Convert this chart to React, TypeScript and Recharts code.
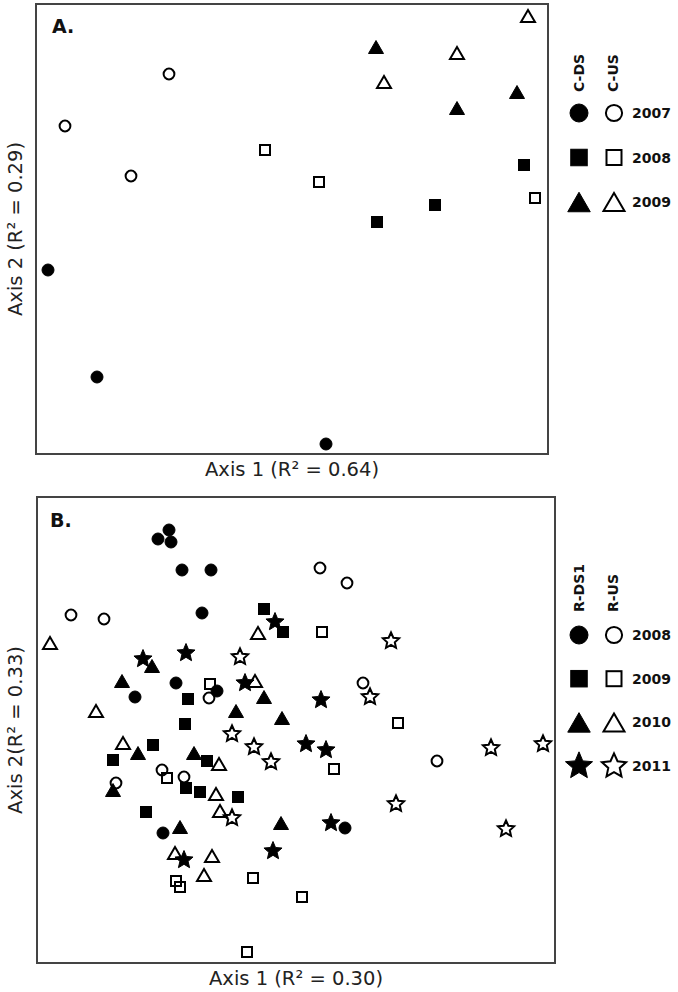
import { ReferenceArea, Scatter, ScatterChart, XAxis, YAxis } from 'recharts';

type Pt = [number, number];
type Kind = 'circle' | 'square' | 'triangle' | 'star';

// Panel A: C-DS (filled) / C-US (open), 2007-2009
const groupsA = ['C-DS', 'C-US'];
const yearsA = ['2007', '2008', '2009'];
const cDs2007: Pt[] = [[1.2, 18.4], [6.1, 7.7], [29.0, 1.0]];
const cUs2007: Pt[] = [[2.9, 32.8], [13.3, 38.0], [9.5, 27.8]];
const cDs2008: Pt[] = [[34.1, 23.2], [39.9, 24.9], [48.8, 28.9]];
const cUs2008: Pt[] = [[22.9, 30.4], [28.3, 27.2], [49.9, 25.6]];
const cDs2009: Pt[] = [[34.0, 40.7], [42.1, 34.6], [48.1, 36.2]];
const cUs2009: Pt[] = [[49.2, 43.8], [42.1, 40.1], [34.8, 37.2]];

// Panel B: R-DS1 (filled) / R-US (open), 2008-2011
const groupsB = ['R-DS1', 'R-US'];
const yearsB = ['2008', '2009', '2010', '2011'];
const rDs2008: Pt[] = [[13.2, 43.3], [12.1, 42.4], [13.4, 42.1], [14.5, 39.3], [17.4, 39.3], [16.5, 35.0], [13.9, 28.0], [18.0, 27.2], [9.8, 26.6], [12.6, 13.0], [30.8, 13.5]];
const rUs2008: Pt[] = [[3.4, 34.8], [6.7, 34.4], [28.3, 39.5], [31.0, 38.0], [17.2, 26.5], [32.6, 28.0], [40.0, 20.2], [12.5, 19.3], [14.7, 18.6], [7.9, 18.0]];
const rDs2009: Pt[] = [[22.7, 35.4], [24.6, 33.1], [15.1, 26.4], [14.8, 23.9], [11.6, 21.8], [7.6, 20.3], [17.0, 20.2], [14.9, 17.5], [16.3, 17.1], [20.1, 16.6], [10.9, 15.1]];
const rUs2009: Pt[] = [[28.5, 33.1], [17.3, 27.9], [36.1, 24.0], [29.7, 19.4], [13.0, 18.5], [13.9, 8.2], [14.3, 7.6], [21.6, 8.5], [26.5, 6.6], [21.0, 1.1]];
const rDs2010: Pt[] = [[11.5, 29.7], [8.5, 28.2], [22.7, 26.6], [19.9, 25.2], [24.5, 24.5], [10.1, 21.0], [15.7, 21.0], [7.6, 17.3], [14.3, 13.6], [24.4, 14.0]];
const rUs2010: Pt[] = [[1.3, 32.0], [22.1, 33.0], [21.8, 28.2], [5.9, 25.2], [8.6, 22.0], [18.2, 19.9], [17.9, 16.9], [18.3, 15.2], [13.8, 11.0], [17.5, 10.7], [16.7, 8.8]];
const rDs2011: Pt[] = [[23.8, 34.1], [10.6, 30.4], [14.9, 31.0], [20.8, 28.0], [28.4, 26.3], [26.9, 21.9], [28.9, 21.3], [29.4, 14.0], [23.6, 11.2], [14.7, 10.3]];
const rUs2011: Pt[] = [[20.3, 30.6], [19.5, 22.9], [21.7, 21.6], [23.4, 20.1], [35.4, 32.2], [33.3, 26.6], [19.5, 14.5], [35.9, 15.9], [45.4, 21.5], [50.6, 21.9], [46.9, 13.4]];

const kindsA: Kind[] = ['circle', 'square', 'triangle'];
const kindsB: Kind[] = ['circle', 'square', 'triangle', 'star'];

const seriesA = [
  { kind: 'circle', filled: true, pts: cDs2007 },
  { kind: 'circle', filled: false, pts: cUs2007 },
  { kind: 'square', filled: true, pts: cDs2008 },
  { kind: 'square', filled: false, pts: cUs2008 },
  { kind: 'triangle', filled: true, pts: cDs2009 },
  { kind: 'triangle', filled: false, pts: cUs2009 },
] as const;

const seriesB = [
  { kind: 'circle', filled: true, pts: rDs2008 },
  { kind: 'circle', filled: false, pts: rUs2008 },
  { kind: 'square', filled: true, pts: rDs2009 },
  { kind: 'square', filled: false, pts: rUs2009 },
  { kind: 'triangle', filled: true, pts: rDs2010 },
  { kind: 'triangle', filled: false, pts: rUs2010 },
  { kind: 'star', filled: true, pts: rDs2011 },
  { kind: 'star', filled: false, pts: rUs2011 },
] as const;

const FONT = 'DejaVu Sans, Verdana, sans-serif';
const toXY = (pts: readonly Pt[]) => pts.map(([x, y]) => ({ x, y }));

const starPath = (cx: number, cy: number, R: number, r: number) => {
  let d = '';
  for (let i = 0; i < 10; i++) {
    const a = -Math.PI / 2 + (i * Math.PI) / 5;
    const rad = i % 2 === 0 ? R : r;
    d += (i ? 'L' : 'M') + (cx + rad * Math.cos(a)).toFixed(2) + ',' + (cy + rad * Math.sin(a)).toFixed(2);
  }
  return d + 'Z';
};

const Marker = ({ cx, cy, kind, filled, k = 1 }: { cx: number; cy: number; kind: Kind; filled: boolean; k?: number }) => {
  if (cx == null || cy == null) return null;
  const common = {
    fill: filled ? '#000' : 'none',
    stroke: '#000',
    strokeWidth: filled ? 1 : 2,
    strokeLinejoin: 'miter' as const,
  };
  if (kind === 'circle') return <circle cx={cx} cy={cy} r={(filled ? 6 : 5.4) * k} {...common} />;
  if (kind === 'square') {
    const s = (filled ? 11 : 10) * k;
    return <rect x={cx - s / 2} y={cy - s / 2} width={s} height={s} {...common} />;
  }
  if (kind === 'triangle') {
    const w = (filled ? 15 : 14) * k;
    const h = (filled ? 13 : 12) * k;
    return <polygon points={`${cx},${cy - h / 2} ${cx - w / 2},${cy + h / 2} ${cx + w / 2},${cy + h / 2}`} {...common} />;
  }
  return <path d={starPath(cx, cy, (filled ? 9.5 : 8.5) * k, (filled ? 4.3 : 4) * k)} {...common} />;
};

const xLabel = (text: string) => ({
  content: (props: any) => {
    const vb = props.viewBox || { x: 0, y: 0, width: 0, height: 0 };
    return (
      <text x={vb.x + vb.width / 2} y={vb.y + 15} textAnchor="middle" dominantBaseline="central" fontFamily={FONT} fontSize={19.5} fill="#222">
        {text}
      </text>
    );
  },
});

const yLabel = (text: string) => ({
  content: (props: any) => {
    const vb = props.viewBox || { x: 0, y: 0, width: 0, height: 0 };
    const x = vb.x + 15;
    const y = vb.y + vb.height / 2;
    return (
      <text x={x} y={y} transform={`rotate(-90 ${x} ${y})`} textAnchor="middle" dominantBaseline="central" fontFamily={FONT} fontSize={19.5} fill="#222">
        {text}
      </text>
    );
  },
});

const Legend = ({ groups, years, kinds, headBottom, rowY, rowGap }: { groups: string[]; years: string[]; kinds: Kind[]; headBottom: number; rowY: number; rowGap: number }) => (
  <g fontFamily={FONT} fontWeight="bold" fontSize={14} fill="#111">
    {groups.map((g, i) => {
      const x = 579 + i * 34;
      return (
        <text key={g} x={x} y={headBottom} transform={`rotate(-90 ${x} ${headBottom})`} dominantBaseline="central">
          {g}
        </text>
      );
    })}
    {years.map((yr, i) => {
      const y = rowY + i * rowGap;
      return (
        <g key={yr}>
          <Marker cx={579} cy={y} kind={kinds[i]} filled k={1.5} />
          <Marker cx={614} cy={y} kind={kinds[i]} filled={false} k={1.5} />
          <text x={632} y={y} dominantBaseline="central">{yr}</text>
        </g>
      );
    })}
  </g>
);

const Panel = ({ series, xMax, yMax, xText, yText, margin, xH, yW, height }: any) => (
  <ScatterChart width={678} height={height} margin={margin}>
    <XAxis type="number" dataKey="x" domain={[0, xMax]} allowDataOverflow tick={false} tickLine={false} axisLine={false} height={xH} label={xLabel(xText)} />
    <YAxis type="number" dataKey="y" domain={[0, yMax]} allowDataOverflow tick={false} tickLine={false} axisLine={false} width={yW} label={yLabel(yText)} />
    <ReferenceArea x1={0} x2={xMax} y1={0} y2={yMax} fill="none" stroke="#444" strokeWidth={2} ifOverflow="visible" />
    {series.map((s: any, i: number) => (
      <Scatter
        key={i}
        data={toXY(s.pts)}
        isAnimationActive={false}
        shape={(p: any) => <Marker cx={p.cx} cy={p.cy} kind={s.kind} filled={s.filled} />}
      />
    ))}
  </ScatterChart>
);

export default function App() {
  return (
    <div style={{ position: 'absolute', left: 0, top: 0, width: 678, height: 992, background: '#fff' }}>
      <div style={{ position: 'absolute', left: 0, top: 0 }}>
        <Panel
          series={seriesA}
          xMax={51.2}
          yMax={45}
          xText="Axis 1 (R² = 0.64)"
          yText="Axis 2 (R² = 0.29)"
          margin={{ top: 4, right: 130, bottom: 0, left: 0 }}
          xH={26}
          yW={36}
          height={480}
        />
      </div>
      <div style={{ position: 'absolute', left: 0, top: 484 }}>
        <Panel
          series={seriesB}
          xMax={51.8}
          yMax={46.6}
          xText="Axis 1 (R² = 0.30)"
          yText="Axis 2(R² = 0.33)"
          margin={{ top: 13, right: 123, bottom: 0, left: 0 }}
          xH={29}
          yW={37}
          height={508}
        />
      </div>
      <svg width={678} height={992} style={{ position: 'absolute', left: 0, top: 0, pointerEvents: 'none' }}>
        <text x={52} y={33} fontFamily={FONT} fontWeight="bold" fontSize={19} fill="#111">A.</text>
        <text x={50} y={527} fontFamily={FONT} fontWeight="bold" fontSize={19} fill="#111">B.</text>
        <Legend groups={groupsA} years={yearsA} kinds={kindsA} headBottom={92} rowY={113} rowGap={44.5} />
        <Legend groups={groupsB} years={yearsB} kinds={kindsB} headBottom={612} rowY={635} rowGap={43.7} />
      </svg>
    </div>
  );
}
